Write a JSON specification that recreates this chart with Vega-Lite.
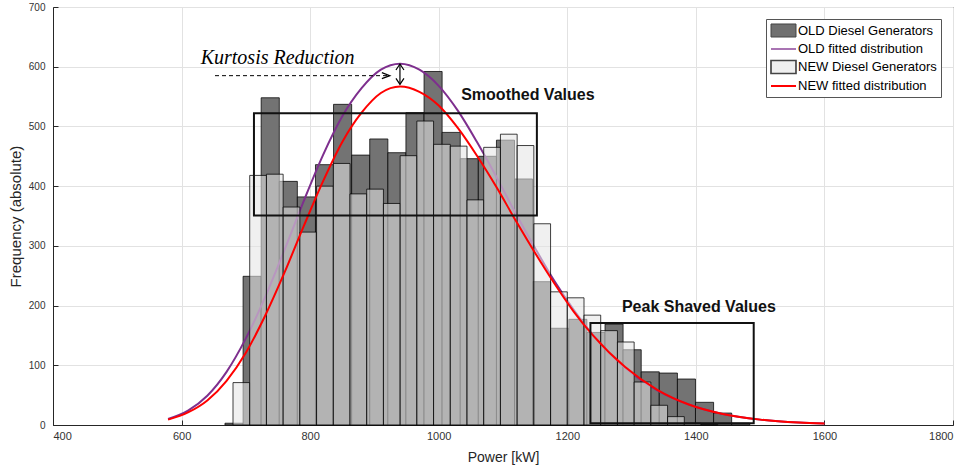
{
  "$schema": "https://vega.github.io/schema/vega-lite/v6.json",
  "width": 900,
  "height": 418,
  "autosize": "none",
  "padding": {"left": 53, "top": 7, "right": 7, "bottom": 44},
  "background": "white",
  "config": {
    "view": {"stroke": "#262626", "strokeWidth": 1},
    "font": "Liberation Sans",
    "axis": {
      "gridColor": "#e2e2e2", "gridWidth": 1,
      "domainColor": "#262626", "tickColor": "#262626",
      "labelColor": "#333333", "titleColor": "#262626",
      "labelFont": "Liberation Sans", "titleFont": "Liberation Sans",
      "titleFontWeight": "normal"
    },
    "legend": {
      "orient": "top-right", "offset": 12, "title": null,
      "symbolSize": 196, "labelFont": "Liberation Sans", "labelFontSize": 13, "labelColor": "#000000",
      "labelOffset": 12, "rowPadding": 1, "padding": 4,
      "strokeColor": "#555555", "fillColor": "#ffffff"
    }
  },
  "datasets": {
    "bars": [
      {"series": "OLD Diesel Generators", "x0": 667.5, "x1": 695.7, "count": 3},
      {"series": "OLD Diesel Generators", "x0": 695.7, "x1": 723.8, "count": 249},
      {"series": "OLD Diesel Generators", "x0": 723.8, "x1": 752.0, "count": 548},
      {"series": "OLD Diesel Generators", "x0": 752.0, "x1": 780.1, "count": 408},
      {"series": "OLD Diesel Generators", "x0": 780.1, "x1": 808.3, "count": 382},
      {"series": "OLD Diesel Generators", "x0": 808.3, "x1": 836.4, "count": 436},
      {"series": "OLD Diesel Generators", "x0": 836.4, "x1": 864.6, "count": 537},
      {"series": "OLD Diesel Generators", "x0": 864.6, "x1": 892.7, "count": 452},
      {"series": "OLD Diesel Generators", "x0": 892.7, "x1": 920.9, "count": 479},
      {"series": "OLD Diesel Generators", "x0": 920.9, "x1": 949.0, "count": 456},
      {"series": "OLD Diesel Generators", "x0": 949.0, "x1": 977.2, "count": 523},
      {"series": "OLD Diesel Generators", "x0": 977.2, "x1": 1005.3, "count": 592},
      {"series": "OLD Diesel Generators", "x0": 1005.3, "x1": 1033.5, "count": 490},
      {"series": "OLD Diesel Generators", "x0": 1033.5, "x1": 1061.6, "count": 446},
      {"series": "OLD Diesel Generators", "x0": 1061.6, "x1": 1089.8, "count": 450},
      {"series": "OLD Diesel Generators", "x0": 1089.8, "x1": 1117.9, "count": 477},
      {"series": "OLD Diesel Generators", "x0": 1117.9, "x1": 1146.1, "count": 412},
      {"series": "OLD Diesel Generators", "x0": 1146.1, "x1": 1174.2, "count": 240},
      {"series": "OLD Diesel Generators", "x0": 1174.2, "x1": 1202.4, "count": 162},
      {"series": "OLD Diesel Generators", "x0": 1202.4, "x1": 1230.5, "count": 177},
      {"series": "OLD Diesel Generators", "x0": 1230.5, "x1": 1258.7, "count": 155},
      {"series": "OLD Diesel Generators", "x0": 1258.7, "x1": 1286.8, "count": 169},
      {"series": "OLD Diesel Generators", "x0": 1286.8, "x1": 1315.0, "count": 126},
      {"series": "OLD Diesel Generators", "x0": 1315.0, "x1": 1343.1, "count": 89},
      {"series": "OLD Diesel Generators", "x0": 1343.1, "x1": 1371.3, "count": 87},
      {"series": "OLD Diesel Generators", "x0": 1371.3, "x1": 1399.4, "count": 77},
      {"series": "OLD Diesel Generators", "x0": 1399.4, "x1": 1427.6, "count": 38},
      {"series": "OLD Diesel Generators", "x0": 1427.6, "x1": 1455.7, "count": 20},
      {"series": "OLD Diesel Generators", "x0": 1455.7, "x1": 1483.9, "count": 3},
      {"series": "NEW Diesel Generators", "x0": 680, "x1": 706, "count": 71},
      {"series": "NEW Diesel Generators", "x0": 706, "x1": 732, "count": 418},
      {"series": "NEW Diesel Generators", "x0": 732, "x1": 758, "count": 420},
      {"series": "NEW Diesel Generators", "x0": 758, "x1": 784, "count": 365},
      {"series": "NEW Diesel Generators", "x0": 784, "x1": 810, "count": 323},
      {"series": "NEW Diesel Generators", "x0": 810, "x1": 836, "count": 400},
      {"series": "NEW Diesel Generators", "x0": 836, "x1": 862, "count": 438},
      {"series": "NEW Diesel Generators", "x0": 862, "x1": 888, "count": 387},
      {"series": "NEW Diesel Generators", "x0": 888, "x1": 914, "count": 395},
      {"series": "NEW Diesel Generators", "x0": 914, "x1": 940, "count": 371},
      {"series": "NEW Diesel Generators", "x0": 940, "x1": 966, "count": 451},
      {"series": "NEW Diesel Generators", "x0": 966, "x1": 992, "count": 509},
      {"series": "NEW Diesel Generators", "x0": 992, "x1": 1018, "count": 470},
      {"series": "NEW Diesel Generators", "x0": 1018, "x1": 1044, "count": 467},
      {"series": "NEW Diesel Generators", "x0": 1044, "x1": 1070, "count": 377},
      {"series": "NEW Diesel Generators", "x0": 1070, "x1": 1096, "count": 465},
      {"series": "NEW Diesel Generators", "x0": 1096, "x1": 1122, "count": 487},
      {"series": "NEW Diesel Generators", "x0": 1122, "x1": 1148, "count": 468},
      {"series": "NEW Diesel Generators", "x0": 1148, "x1": 1174, "count": 337},
      {"series": "NEW Diesel Generators", "x0": 1174, "x1": 1200, "count": 223},
      {"series": "NEW Diesel Generators", "x0": 1200, "x1": 1226, "count": 213},
      {"series": "NEW Diesel Generators", "x0": 1226, "x1": 1252, "count": 184},
      {"series": "NEW Diesel Generators", "x0": 1252, "x1": 1278, "count": 158},
      {"series": "NEW Diesel Generators", "x0": 1278, "x1": 1304, "count": 139},
      {"series": "NEW Diesel Generators", "x0": 1304, "x1": 1330, "count": 72},
      {"series": "NEW Diesel Generators", "x0": 1330, "x1": 1356, "count": 33},
      {"series": "NEW Diesel Generators", "x0": 1356, "x1": 1382, "count": 14},
      {"series": "NEW Diesel Generators", "x0": 1382, "x1": 1408, "count": 3},
      {"series": "NEW Diesel Generators", "x0": 1408, "x1": 1434, "count": 1}
    ],
    "fits": [
      {"series": "OLD fitted distribution", "kw": 579, "freq": 10},
      {"series": "OLD fitted distribution", "kw": 610, "freq": 24},
      {"series": "OLD fitted distribution", "kw": 640, "freq": 49},
      {"series": "OLD fitted distribution", "kw": 670, "freq": 89},
      {"series": "OLD fitted distribution", "kw": 700, "freq": 145},
      {"series": "OLD fitted distribution", "kw": 730, "freq": 214},
      {"series": "OLD fitted distribution", "kw": 760, "freq": 293},
      {"series": "OLD fitted distribution", "kw": 790, "freq": 375},
      {"series": "OLD fitted distribution", "kw": 820, "freq": 452},
      {"series": "OLD fitted distribution", "kw": 850, "freq": 517},
      {"series": "OLD fitted distribution", "kw": 880, "freq": 564},
      {"series": "OLD fitted distribution", "kw": 910, "freq": 595},
      {"series": "OLD fitted distribution", "kw": 940, "freq": 605},
      {"series": "OLD fitted distribution", "kw": 970, "freq": 595},
      {"series": "OLD fitted distribution", "kw": 1000, "freq": 568},
      {"series": "OLD fitted distribution", "kw": 1030, "freq": 526},
      {"series": "OLD fitted distribution", "kw": 1060, "freq": 473},
      {"series": "OLD fitted distribution", "kw": 1090, "freq": 415},
      {"series": "OLD fitted distribution", "kw": 1120, "freq": 354},
      {"series": "OLD fitted distribution", "kw": 1150, "freq": 296},
      {"series": "OLD fitted distribution", "kw": 1180, "freq": 241},
      {"series": "OLD fitted distribution", "kw": 1210, "freq": 193},
      {"series": "OLD fitted distribution", "kw": 1240, "freq": 151},
      {"series": "OLD fitted distribution", "kw": 1290, "freq": 96},
      {"series": "OLD fitted distribution", "kw": 1340, "freq": 58},
      {"series": "OLD fitted distribution", "kw": 1390, "freq": 34},
      {"series": "OLD fitted distribution", "kw": 1440, "freq": 19},
      {"series": "OLD fitted distribution", "kw": 1500, "freq": 9},
      {"series": "OLD fitted distribution", "kw": 1560, "freq": 4},
      {"series": "OLD fitted distribution", "kw": 1600, "freq": 2.3},
      {"series": "NEW fitted distribution", "kw": 579, "freq": 9},
      {"series": "NEW fitted distribution", "kw": 610, "freq": 21},
      {"series": "NEW fitted distribution", "kw": 640, "freq": 41},
      {"series": "NEW fitted distribution", "kw": 670, "freq": 74},
      {"series": "NEW fitted distribution", "kw": 700, "freq": 121},
      {"series": "NEW fitted distribution", "kw": 730, "freq": 183},
      {"series": "NEW fitted distribution", "kw": 760, "freq": 255},
      {"series": "NEW fitted distribution", "kw": 790, "freq": 333},
      {"series": "NEW fitted distribution", "kw": 820, "freq": 408},
      {"series": "NEW fitted distribution", "kw": 850, "freq": 474},
      {"series": "NEW fitted distribution", "kw": 880, "freq": 523},
      {"series": "NEW fitted distribution", "kw": 910, "freq": 556},
      {"series": "NEW fitted distribution", "kw": 940, "freq": 567},
      {"series": "NEW fitted distribution", "kw": 970, "freq": 558},
      {"series": "NEW fitted distribution", "kw": 1000, "freq": 535},
      {"series": "NEW fitted distribution", "kw": 1030, "freq": 497},
      {"series": "NEW fitted distribution", "kw": 1060, "freq": 450},
      {"series": "NEW fitted distribution", "kw": 1090, "freq": 398},
      {"series": "NEW fitted distribution", "kw": 1120, "freq": 342},
      {"series": "NEW fitted distribution", "kw": 1150, "freq": 288},
      {"series": "NEW fitted distribution", "kw": 1180, "freq": 237},
      {"series": "NEW fitted distribution", "kw": 1210, "freq": 190},
      {"series": "NEW fitted distribution", "kw": 1240, "freq": 150},
      {"series": "NEW fitted distribution", "kw": 1290, "freq": 97},
      {"series": "NEW fitted distribution", "kw": 1340, "freq": 59},
      {"series": "NEW fitted distribution", "kw": 1390, "freq": 34},
      {"series": "NEW fitted distribution", "kw": 1440, "freq": 19},
      {"series": "NEW fitted distribution", "kw": 1500, "freq": 9},
      {"series": "NEW fitted distribution", "kw": 1560, "freq": 4},
      {"series": "NEW fitted distribution", "kw": 1600, "freq": 2.3}
    ],
    "legendKeys": [
      {"series": "OLD Diesel Generators"},
      {"series": "OLD fitted distribution"},
      {"series": "NEW Diesel Generators"},
      {"series": "NEW fitted distribution"}
    ],
    "boxes": [
      {"name": "Smoothed Values", "x0": 712.6, "x1": 1152.7, "y0": 351, "y1": 522},
      {"name": "Peak Shaved Values", "x0": 1236, "x1": 1490, "y0": 3, "y1": 171}
    ],
    "boldLabels": [
      {"label": "Smoothed Values", "kw": 1138.7, "freq": 552},
      {"label": "Peak Shaved Values", "kw": 1404.7, "freq": 198}
    ],
    "kurtosis": [
      {"label": "Kurtosis Reduction", "kw": 629.7, "freq": 604}
    ],
    "dashed": [
      {"x0": 652, "x1": 922, "freq": 585}
    ],
    "dashHead": [
      {"kw": 924, "freq": 585}
    ],
    "vert": [
      {"kw": 939.7, "y0": 570.5, "y1": 604.5}
    ],
    "upHead": [
      {"kw": 939.7, "freq": 604.5}
    ],
    "downHead": [
      {"kw": 939.7, "freq": 570.5}
    ]
  },
  "layer": [
    {
      "data": {"name": "bars"},
      "transform": [{"filter": "datum.series === 'OLD Diesel Generators'"}],
      "mark": {"type": "bar", "fill": "#737373", "fillOpacity": 1, "stroke": "#000000", "strokeWidth": 1, "strokeOpacity": 0.75},
      "encoding": {
        "x": {"field": "x0", "type": "quantitative",
              "scale": {"domain": [400, 1800], "nice": false, "zero": false},
              "axis": {"title": "Power [kW]", "values": [400, 600, 800, 1000, 1200, 1400, 1600, 1800], "format": "d",
                       "labelFontSize": 11, "titleFontSize": 14, "tickSize": -5, "labelPadding": 10, "titlePadding": 9}},
        "x2": {"field": "x1"},
        "y": {"field": "count", "type": "quantitative",
              "scale": {"domain": [0, 700], "nice": false},
              "axis": {"title": "Frequency (absolute)", "values": [0, 100, 200, 300, 400, 500, 600, 700],
                       "labelFontSize": 10, "titleFontSize": 15, "tickSize": -5, "labelPadding": 13, "titlePadding": 5}},
        "y2": {"datum": 0}
      }
    },
    {
      "data": {"name": "fits"},
      "transform": [{"filter": "datum.series === 'OLD fitted distribution'"}],
      "mark": {"type": "line", "strokeWidth": 2, "interpolate": "monotone", "color": "#7E2F8E"},
      "encoding": {
        "x": {"field": "kw", "type": "quantitative"},
        "y": {"field": "freq", "type": "quantitative"}
      }
    },
    {
      "data": {"name": "bars"},
      "transform": [{"filter": "datum.series === 'NEW Diesel Generators'"}],
      "mark": {"type": "bar", "fill": "#e5e5e5", "fillOpacity": 0.57, "stroke": "#000000", "strokeWidth": 1, "strokeOpacity": 0.75},
      "encoding": {
        "x": {"field": "x0", "type": "quantitative"},
        "x2": {"field": "x1"},
        "y": {"field": "count", "type": "quantitative"},
        "y2": {"datum": 0}
      }
    },
    {
      "data": {"name": "fits"},
      "transform": [{"filter": "datum.series === 'NEW fitted distribution'"}],
      "mark": {"type": "line", "strokeWidth": 2, "interpolate": "monotone", "color": "#FF0000"},
      "encoding": {
        "x": {"field": "kw", "type": "quantitative"},
        "y": {"field": "freq", "type": "quantitative"}
      }
    },
    {
      "data": {"name": "boxes"},
      "mark": {"type": "rect", "filled": false, "stroke": "#111111", "strokeWidth": 2},
      "encoding": {
        "x": {"field": "x0", "type": "quantitative"},
        "x2": {"field": "x1"},
        "y": {"field": "y0", "type": "quantitative"},
        "y2": {"field": "y1"}
      }
    },
    {
      "data": {"name": "boldLabels"},
      "mark": {"type": "text", "font": "Liberation Sans", "fontWeight": "bold", "fontSize": 16, "align": "center", "baseline": "middle", "color": "#111111"},
      "encoding": {
        "x": {"field": "kw", "type": "quantitative"},
        "y": {"field": "freq", "type": "quantitative"},
        "text": {"field": "label"}
      }
    },
    {
      "data": {"name": "kurtosis"},
      "mark": {"type": "text", "font": "Liberation Serif", "fontStyle": "italic", "fontSize": 20, "align": "left", "baseline": "alphabetic", "color": "#000000"},
      "encoding": {
        "x": {"field": "kw", "type": "quantitative"},
        "y": {"field": "freq", "type": "quantitative"},
        "text": {"field": "label"}
      }
    },
    {
      "data": {"name": "dashed"},
      "mark": {"type": "rule", "strokeDash": [4, 3], "strokeWidth": 1, "color": "#000000"},
      "encoding": {
        "x": {"field": "x0", "type": "quantitative"},
        "x2": {"field": "x1"},
        "y": {"field": "freq", "type": "quantitative"}
      }
    },
    {
      "data": {"name": "dashHead"},
      "mark": {"type": "point", "shape": "M-1.6,-0.6L0,0L-1.6,0.6", "filled": false, "stroke": "#000000", "strokeWidth": 1.2, "size": 100, "opacity": 1},
      "encoding": {
        "x": {"field": "kw", "type": "quantitative"},
        "y": {"field": "freq", "type": "quantitative"}
      }
    },
    {
      "data": {"name": "vert"},
      "mark": {"type": "rule", "strokeWidth": 1.2, "color": "#000000"},
      "encoding": {
        "x": {"field": "kw", "type": "quantitative"},
        "y": {"field": "y0", "type": "quantitative"},
        "y2": {"field": "y1"}
      }
    },
    {
      "data": {"name": "upHead"},
      "mark": {"type": "point", "shape": "M-0.8,1.2L0,0L0.8,1.2", "filled": false, "stroke": "#000000", "strokeWidth": 1.2, "size": 100, "opacity": 1},
      "encoding": {
        "x": {"field": "kw", "type": "quantitative"},
        "y": {"field": "freq", "type": "quantitative"}
      }
    },
    {
      "data": {"name": "downHead"},
      "mark": {"type": "point", "shape": "M-0.8,-1.2L0,0L0.8,-1.2", "filled": false, "stroke": "#000000", "strokeWidth": 1.2, "size": 100, "opacity": 1},
      "encoding": {
        "x": {"field": "kw", "type": "quantitative"},
        "y": {"field": "freq", "type": "quantitative"}
      }
    },
    {
      "data": {"name": "legendKeys"},
      "transform": [{"filter": "false"}],
      "mark": {"type": "point", "filled": true, "opacity": 1, "size": 196},
      "encoding": {
        "fill": {
          "field": "series", "type": "nominal",
          "scale": {"domain": ["OLD Diesel Generators", "OLD fitted distribution", "NEW Diesel Generators", "NEW fitted distribution"],
                    "range": ["#707070", "#7E2F8E", "#efefef", "#FF0000"]},
          "legend": {"title": null}
        },
        "stroke": {
          "field": "series", "type": "nominal",
          "scale": {"domain": ["OLD Diesel Generators", "OLD fitted distribution", "NEW Diesel Generators", "NEW fitted distribution"],
                    "range": ["#444444", "#7E2F8E", "#444444", "#FF0000"]},
          "legend": {"title": null}
        },
        "strokeWidth": {
          "field": "series", "type": "nominal",
          "scale": {"domain": ["OLD Diesel Generators", "OLD fitted distribution", "NEW Diesel Generators", "NEW fitted distribution"],
                    "range": [1, 2, 1, 2]},
          "legend": {"title": null}
        },
        "shape": {
          "field": "series", "type": "nominal",
          "scale": {"domain": ["OLD Diesel Generators", "OLD fitted distribution", "NEW Diesel Generators", "NEW fitted distribution"],
                    "range": ["M-1,-0.93H2.57V0.93H-1Z", "M-1,0H2.57", "M-1,-0.93H2.57V0.93H-1Z", "M-1,0H2.57"]},
          "legend": {"title": null}
        }
      }
    }
  ]
}
